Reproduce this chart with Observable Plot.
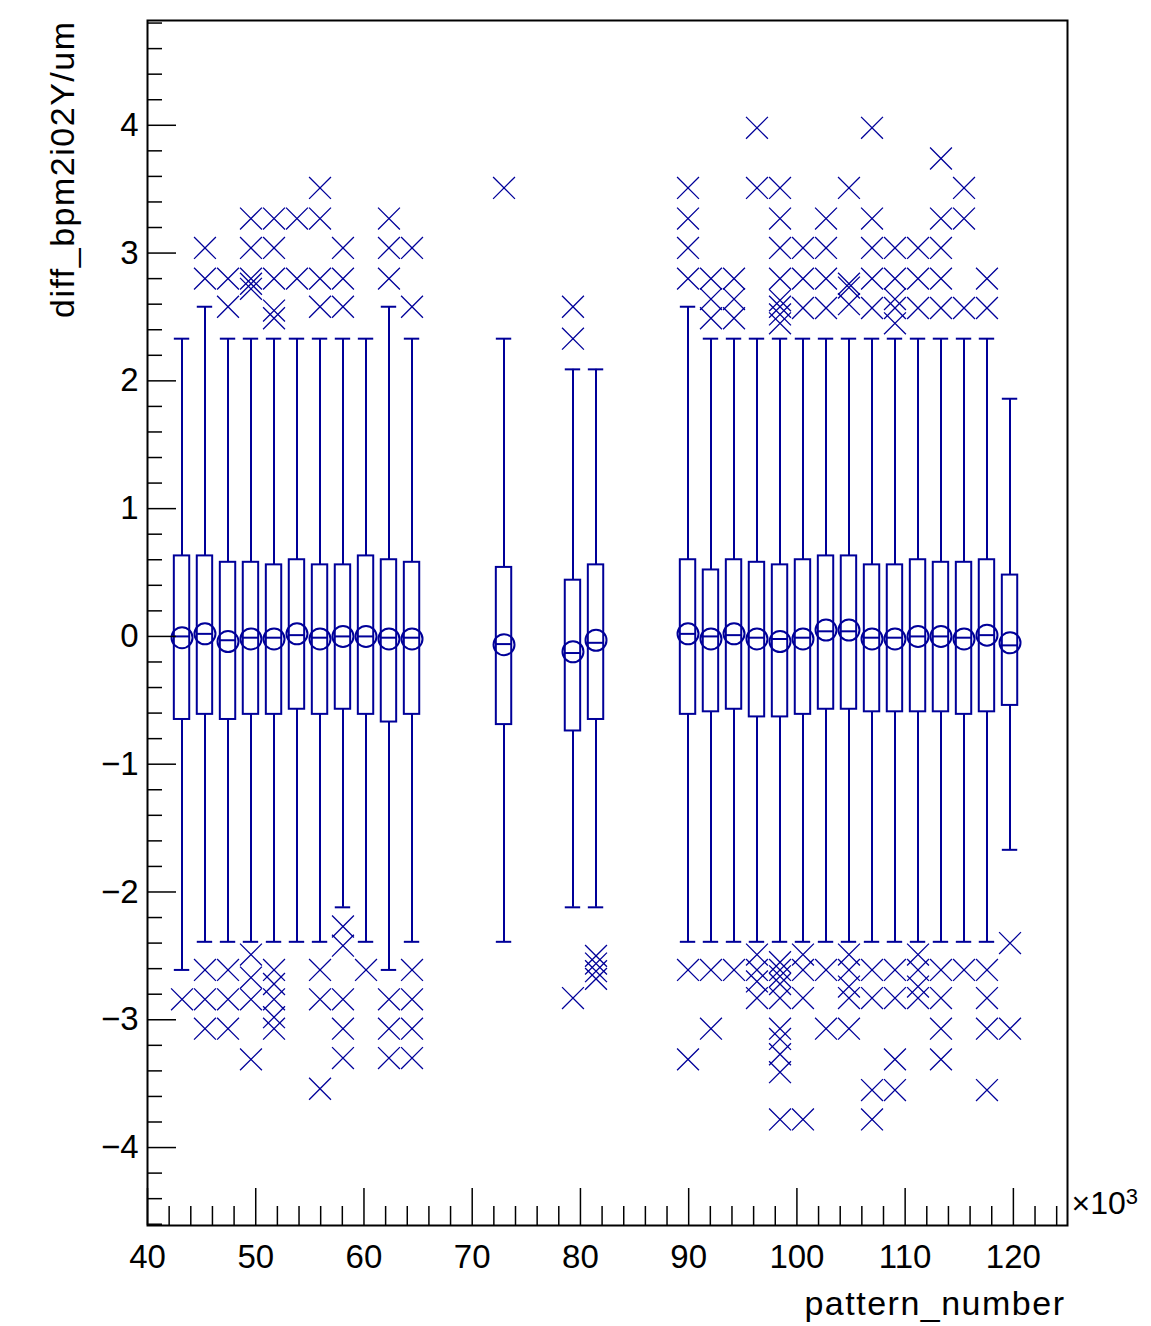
<!DOCTYPE html>
<html>
<head>
<meta charset="utf-8">
<script src="https://cdn.jsdelivr.net/npm/d3@7"></script>
<script src="https://cdn.jsdelivr.net/npm/@observablehq/plot@0.6"></script>
<style>
  html, body { margin: 0; padding: 0; background: #ffffff; }
  #chart svg { display: block; }
</style>
</head>
<body>
<div id="chart"></div>
<script>
// ---- Data (pattern_number in units of 10^3) ----
const patternK = [43.19, 45.31, 47.44, 49.56, 51.69, 53.81, 55.94, 58.06, 60.19, 62.31, 64.44,
  72.94, 79.31, 81.44,
  89.94, 92.06, 94.19, 96.31, 98.44, 100.56, 102.69, 104.81, 106.94, 109.06, 111.19, 113.31, 115.44, 117.56, 119.69];
const binWidthK = 2.125; // 40 bins over 40..125

const q3Values = [0.63, 0.63, 0.58, 0.58, 0.56, 0.60, 0.56, 0.56, 0.63, 0.60, 0.58,
  0.54, 0.44, 0.56,
  0.60, 0.52, 0.60, 0.58, 0.56, 0.60, 0.63, 0.63, 0.56, 0.56, 0.60, 0.58, 0.58, 0.60, 0.48];
const q1Values = [-0.65, -0.61, -0.65, -0.61, -0.61, -0.57, -0.61, -0.57, -0.61, -0.67, -0.61,
  -0.69, -0.74, -0.65,
  -0.61, -0.59, -0.57, -0.63, -0.63, -0.61, -0.57, -0.57, -0.59, -0.59, -0.59, -0.59, -0.61, -0.59, -0.54];
const medianValues = [0.00, 0.02, -0.03, -0.01, -0.01, 0.01, -0.01, 0.00, 0.00, -0.01, -0.01,
  -0.06, -0.13, -0.05,
  0.02, 0.00, 0.01, -0.01, -0.02, -0.01, 0.04, 0.04, -0.01, -0.01, 0.00, 0.00, -0.01, 0.01, -0.07];
const meanValues = [-0.01, 0.02, -0.04, -0.02, -0.02, 0.02, -0.02, 0.00, 0.00, -0.02, -0.02,
  -0.065, -0.12, -0.03,
  0.02, -0.02, 0.02, -0.02, -0.04, -0.02, 0.05, 0.05, -0.02, -0.02, 0.00, 0.00, -0.02, 0.01, -0.05];
const whiskerHigh = [2.33, 2.58, 2.33, 2.33, 2.33, 2.33, 2.33, 2.33, 2.33, 2.58, 2.33,
  2.33, 2.09, 2.09,
  2.58, 2.33, 2.33, 2.33, 2.33, 2.33, 2.33, 2.33, 2.33, 2.33, 2.33, 2.33, 2.33, 2.33, 1.86];
const whiskerLow = [-2.61, -2.39, -2.39, -2.39, -2.39, -2.39, -2.39, -2.12, -2.39, -2.61, -2.39,
  -2.39, -2.12, -2.12,
  -2.39, -2.39, -2.39, -2.39, -2.39, -2.39, -2.39, -2.39, -2.39, -2.39, -2.39, -2.39, -2.39, -2.39, -1.67];

const outliersHigh = [
  [], [3.04, 2.80], [2.80, 2.58], [3.27, 3.04, 2.80, 2.76, 2.72], [3.27, 3.04, 2.80, 2.55, 2.49],
  [3.27, 2.80], [3.51, 3.27, 2.80, 2.58], [3.04, 2.80, 2.58], [], [3.27, 3.04, 2.80], [3.04, 2.58],
  [3.51], [2.58, 2.33], [],
  [3.51, 3.27, 3.04, 2.80], [2.80, 2.64, 2.49], [2.80, 2.64, 2.49], [3.98, 3.51],
  [3.51, 3.27, 3.04, 2.80, 2.63, 2.58, 2.52, 2.45], [3.04, 2.80, 2.57], [3.27, 3.04, 2.80, 2.57],
  [3.51, 2.76, 2.73, 2.60], [3.98, 3.27, 3.04, 2.80, 2.57], [3.04, 2.80, 2.64, 2.57, 2.45],
  [3.04, 2.80, 2.57], [3.74, 3.27, 3.04, 2.80, 2.57], [3.51, 3.27, 2.57], [2.80, 2.57], []
];
const outliersLow = [
  [-2.84], [-2.61, -2.84, -3.07], [-2.61, -2.84, -3.07], [-2.49, -2.67, -2.84, -3.31],
  [-2.61, -2.72, -2.84, -2.98, -3.07], [], [-2.61, -2.84, -3.54], [-2.27, -2.42, -2.84, -3.07, -3.30],
  [-2.61], [-2.84, -3.07, -3.30], [-2.61, -2.84, -3.07, -3.30],
  [], [-2.83], [-2.50, -2.56, -2.62, -2.68],
  [-2.61, -3.31], [-2.61, -3.07], [-2.61], [-2.49, -2.61, -2.70, -2.83],
  [-2.55, -2.61, -2.66, -2.72, -2.83, -3.07, -3.15, -3.27, -3.41, -3.78],
  [-2.49, -2.61, -2.83, -3.78], [-2.61, -3.07], [-2.49, -2.61, -2.74, -2.83, -3.07],
  [-2.61, -2.83, -3.55, -3.78], [-2.61, -2.83, -3.31, -3.55], [-2.49, -2.61, -2.74, -2.83],
  [-2.61, -2.83, -3.07, -3.31], [-2.61], [-2.61, -2.83, -3.07, -3.55], [-2.40, -3.07]
];

// Axis ticks
const xMajorTicks = [40, 50, 60, 70, 80, 90, 100, 110, 120];
const xMinorTicks = [42, 44, 46, 48, 52, 54, 56, 58, 62, 64, 66, 68, 72, 74, 76, 78, 82, 84, 86, 88,
  92, 94, 96, 98, 102, 104, 106, 108, 112, 114, 116, 118, 122, 124];
const yMajorTicks = [-4, -3, -2, -1, 0, 1, 2, 3, 4];
const yMinorTicks = [-4.6, -4.4, -4.2, -3.8, -3.6, -3.4, -3.2, -2.8, -2.6, -2.4, -2.2, -1.8, -1.6, -1.4, -1.2,
  -0.8, -0.6, -0.4, -0.2, 0.2, 0.4, 0.6, 0.8, 1.2, 1.4, 1.6, 1.8, 2.2, 2.4, 2.6, 2.8,
  3.2, 3.4, 3.6, 3.8, 4.2, 4.4, 4.6, 4.8];

const xTitle = "pattern_number";
const yTitle = "diff_bpm2i02Y/um";
const xExponentBase = "×10";
const xExponentPower = "3";

// ---- Build table ----
const candles = patternK.map((x, i) => ({
  x, x1: x - binWidthK / 2, x2: x + binWidthK / 2,
  q1: q1Values[i], q3: q3Values[i], med: medianValues[i], mean: meanValues[i],
  lo: whiskerLow[i], hi: whiskerHigh[i]
}));
const outliers = patternK.flatMap((x, i) =>
  [...outliersHigh[i], ...outliersLow[i]].map(y => ({x, y})));

const ink = "#000099";
const boxInset = 3.8;
const fontFamily = "'Liberation Sans', Arial, Helvetica, sans-serif";
const fmtY = d => d < 0 ? "\u2212" + Math.abs(d) : String(d);

const chart = Plot.plot({
  width: 1151,
  height: 1326,
  marginLeft: 147,
  marginRight: 84,
  marginTop: 20,
  marginBottom: 101,
  style: {fontFamily, background: "#ffffff", color: "#000000"},
  x: {domain: [40, 125], axis: null},
  y: {domain: [-4.61, 4.82], axis: null},
  marks: [
    // whiskers
    Plot.ruleX(candles, {x: "x", y1: "q3", y2: "hi", stroke: ink, strokeWidth: 2}),
    Plot.ruleX(candles, {x: "x", y1: "lo", y2: "q1", stroke: ink, strokeWidth: 2}),
    Plot.ruleY(candles, {y: "hi", x1: "x1", x2: "x2", insetLeft: boxInset, insetRight: boxInset, stroke: ink, strokeWidth: 2}),
    Plot.ruleY(candles, {y: "lo", x1: "x1", x2: "x2", insetLeft: boxInset, insetRight: boxInset, stroke: ink, strokeWidth: 2}),
    // boxes
    Plot.rect(candles, {x1: "x1", x2: "x2", y1: "q1", y2: "q3", insetLeft: boxInset, insetRight: boxInset,
      fill: "none", stroke: ink, strokeWidth: 2}),
    Plot.ruleY(candles, {y: "med", x1: "x1", x2: "x2", insetLeft: boxInset, insetRight: boxInset, stroke: ink, strokeWidth: 2}),
    Plot.dot(candles, {x: "x", y: "mean", r: 10.5, fill: "none", stroke: ink, strokeWidth: 2}),
    // outliers
    Plot.dot(outliers, {x: "x", y: "y", symbol: "times", r: 10, stroke: ink, strokeWidth: 1.3}),
    // axes: ticks (inward)
    Plot.axisX({ticks: xMajorTicks, tickSize: -37, tickFormat: () => "", label: null, strokeWidth: 1.5}),
    Plot.axisX({ticks: xMinorTicks, tickSize: -19, tickFormat: () => "", label: null, strokeWidth: 1.5}),
    Plot.axisY({ticks: yMajorTicks, tickSize: -29, tickFormat: () => "", label: null, strokeWidth: 1.5}),
    Plot.axisY({ticks: yMinorTicks, tickSize: -15, tickFormat: () => "", label: null, strokeWidth: 1.5}),
    // axes: labels
    Plot.axisX({ticks: xMajorTicks, tickSize: 0, tickPadding: 19, fontSize: 33, label: null, tickFormat: d => String(d)}),
    Plot.axisY({ticks: yMajorTicks, tickSize: 0, tickPadding: 9, fontSize: 33, label: null, tickFormat: fmtY}),
    // titles
    Plot.text([xTitle], {frameAnchor: "bottom-right", textAnchor: "end", dx: -2, dy: 89, fontSize: 34, fill: "#000000"}),
    Plot.text([yTitle], {frameAnchor: "top-left", rotate: -90, textAnchor: "end", dx: -98, dy: 0, fontSize: 34, fill: "#000000"}),
    Plot.text([xExponentBase + xExponentPower], {frameAnchor: "bottom-right", textAnchor: "start", dx: 4, dy: -12, fontSize: 32, fill: "#000000"}),
    Plot.frame({stroke: "#000000", strokeWidth: 2})
  ]
});

document.getElementById("chart").appendChild(chart);

// ROOT-style lettering: wide titles, superscript exponent
d3.select(chart).selectAll("text").each(function() {
  const t = this.textContent;
  const sel = d3.select(this);
  if (t === xTitle || t === yTitle) sel.attr("letter-spacing", "1.5px");
  if (t === xExponentBase + xExponentPower) {
    sel.text(xExponentBase);
    sel.append("tspan").attr("dy", "-0.45em").attr("font-size", 22).text(xExponentPower);
  }
});
</script>
</body>
</html>
